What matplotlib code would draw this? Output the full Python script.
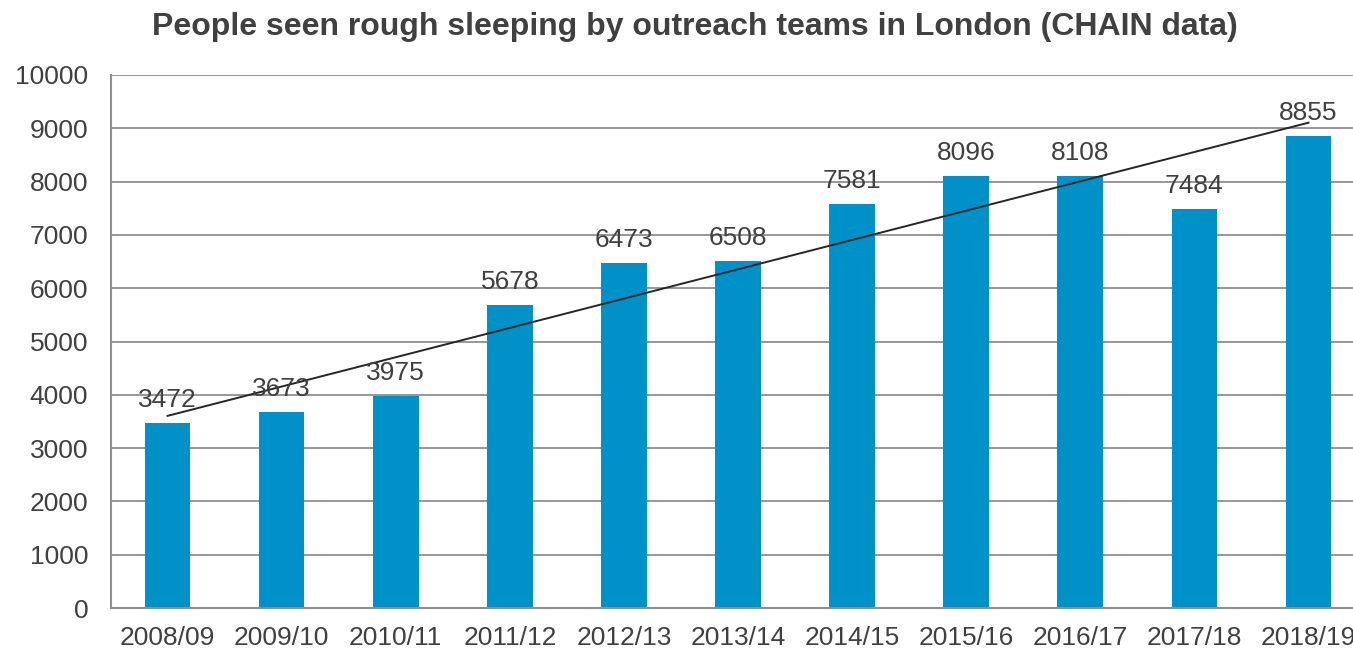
import numpy as np
import matplotlib
matplotlib.use("Agg")
import matplotlib.pyplot as plt

plt.rcParams['font.family'] = ['Liberation Sans', 'DejaVu Sans']

years = ['2008/09', '2009/10', '2010/11', '2011/12', '2012/13', '2013/14',
         '2014/15', '2015/16', '2016/17', '2017/18', '2018/19']
people = [3472, 3673, 3975, 5678, 6473, 6508, 7581, 8096, 8108, 7484, 8855]
yticks = list(range(0, 10001, 1000))

TEXT = '#404040'
BAR = '#0091C8'
GRID = '#8f8f8f'

W, H = 1353, 651
fig = plt.figure(figsize=(W / 100, H / 100), dpi=100)
# axes run past the right edge, as in the original crop
ax = fig.add_axes([110.5 / W, (H - 608) / H, 1255 / W, 533 / H])

x = np.arange(len(years))
ax.bar(x, people, width=0.4, color=BAR, zorder=2)

# linear trend line
coef = np.polyfit(x, people, 1)
ax.plot(x, np.polyval(coef, x), color='#262626', lw=1.4, zorder=3)

for xi, v in zip(x, people):
    ax.annotate(str(v), (xi, v), xytext=(0, 8), textcoords='offset points',
                ha='center', va='bottom', fontsize=19, color=TEXT, zorder=4)

ax.set_xlim(-0.5, len(years) - 0.5)
ax.set_ylim(0, 10000)
ax.set_yticks(yticks)
ax.set_xticks(x)
ax.set_xticklabels(years)
ax.tick_params(axis='both', length=0, labelsize=19, colors=TEXT)
ax.tick_params(axis='x', pad=13)
ax.tick_params(axis='y', pad=16)

ax.yaxis.grid(True, color=GRID, lw=1.3, zorder=0)
ax.set_axisbelow(True)
for s in ['top', 'right']:
    ax.spines[s].set_visible(False)
for s in ['left', 'bottom']:
    ax.spines[s].set_color(GRID)
    ax.spines[s].set_linewidth(1.5)

fig.text(695 / W, 1 - 27 / H, 'People seen rough sleeping by outreach teams in London (CHAIN data)',
         ha='center', va='center', fontsize=23, fontweight='bold', color=TEXT)

fig.savefig('out.png', dpi=100)
